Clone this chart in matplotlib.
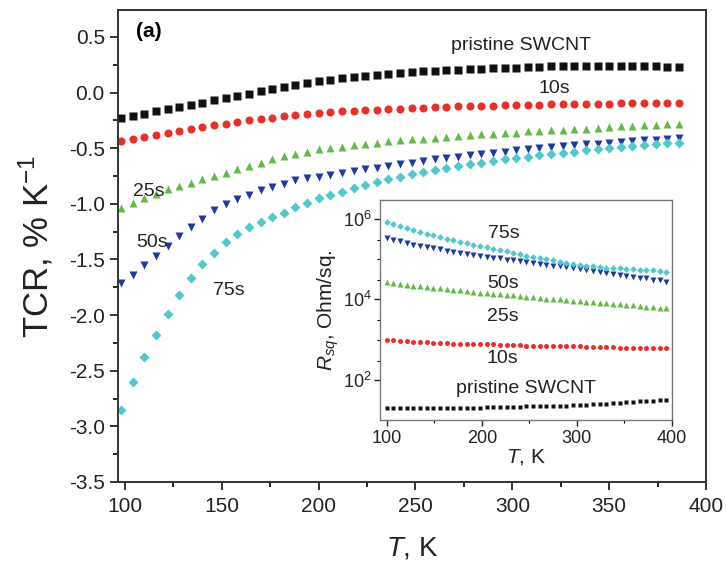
import numpy as np
import matplotlib
matplotlib.use("Agg")
import matplotlib.pyplot as plt
from matplotlib.ticker import MultipleLocator, LogLocator, FixedLocator, NullFormatter

plt.rcParams['font.family'] = ['Liberation Sans', 'DejaVu Sans']
plt.rcParams['mathtext.fontset'] = 'custom'
plt.rcParams['mathtext.it'] = 'Liberation Sans:italic'
plt.rcParams['mathtext.rm'] = 'Liberation Sans'

# main panel: TCR vs T
temp = np.arange(98, 387, 6)

tcr_pristine = [-0.23, -0.21, -0.19, -0.17, -0.15, -0.13, -0.11, -0.09, -0.07, -0.05,
                -0.03, -0.01, 0.01, 0.03, 0.05, 0.07, 0.085, 0.10,
                0.115, 0.13, 0.14, 0.15, 0.16, 0.17, 0.18, 0.185, 0.19, 0.195,
                0.20, 0.205, 0.21, 0.215, 0.22, 0.22, 0.225,
                0.23, 0.23, 0.235, 0.235, 0.24, 0.24, 0.24, 0.24,
                0.24, 0.24, 0.235, 0.235, 0.23, 0.23]
tcr_10s = [-0.44, -0.42, -0.40, -0.38, -0.36, -0.345, -0.33, -0.31, -0.295, -0.28,
           -0.265, -0.25, -0.235, -0.225, -0.21, -0.20, -0.19, -0.18,
           -0.175, -0.17, -0.165, -0.16, -0.155, -0.15, -0.145, -0.14, -0.135, -0.13,
           -0.13, -0.125, -0.125, -0.12, -0.12, -0.115, -0.115,
           -0.11, -0.11, -0.105, -0.105, -0.10, -0.10, -0.10, -0.10,
           -0.095, -0.095, -0.095, -0.09, -0.09, -0.09]
tcr_25s = [-1.04, -0.99, -0.95, -0.91, -0.87, -0.84, -0.81, -0.78, -0.75, -0.72,
           -0.69, -0.66, -0.63, -0.60, -0.57, -0.55, -0.53, -0.51,
           -0.50, -0.49, -0.475, -0.46, -0.45, -0.44, -0.43, -0.42, -0.415, -0.41,
           -0.40, -0.39, -0.385, -0.375, -0.37, -0.365, -0.36,
           -0.35, -0.345, -0.34, -0.335, -0.33, -0.325, -0.315, -0.31,
           -0.305, -0.30, -0.295, -0.29, -0.285, -0.28]
tcr_50s = [-1.71, -1.64, -1.55, -1.47, -1.38, -1.29, -1.21, -1.14, -1.06, -1.00,
           -0.96, -0.92, -0.88, -0.85, -0.82, -0.79, -0.77, -0.755,
           -0.74, -0.72, -0.705, -0.69, -0.675, -0.66, -0.645, -0.63, -0.615, -0.60,
           -0.585, -0.575, -0.56, -0.55, -0.54, -0.53, -0.52,
           -0.51, -0.50, -0.49, -0.48, -0.475, -0.465, -0.46, -0.45,
           -0.445, -0.44, -0.43, -0.425, -0.415, -0.41]
tcr_75s = [-2.85, -2.60, -2.38, -2.18, -1.99, -1.82, -1.67, -1.54, -1.44, -1.34,
           -1.27, -1.21, -1.16, -1.12, -1.08, -1.03, -0.99, -0.95,
           -0.92, -0.89, -0.86, -0.83, -0.80, -0.78, -0.755, -0.735, -0.715, -0.695,
           -0.68, -0.66, -0.645, -0.63, -0.615, -0.60, -0.59,
           -0.575, -0.565, -0.55, -0.54, -0.53, -0.52, -0.51, -0.50,
           -0.49, -0.48, -0.47, -0.46, -0.455, -0.45]

# inset: log10 of sheet resistance vs T
temp_in = np.arange(100, 395, 7)
lr_pristine = [1.29, 1.29, 1.29, 1.29, 1.30, 1.30, 1.30, 1.30, 1.30, 1.30,
               1.31, 1.31, 1.31, 1.31, 1.31, 1.32, 1.32, 1.32, 1.33, 1.33,
               1.33, 1.34, 1.34, 1.35, 1.35, 1.35, 1.36, 1.36, 1.37, 1.37,
               1.38, 1.39, 1.40, 1.41, 1.42, 1.43, 1.44, 1.45, 1.46, 1.47,
               1.48, 1.49, 1.50]
lr_10s = [2.99, 2.98, 2.97, 2.96, 2.95, 2.94, 2.93, 2.92, 2.92, 2.91,
          2.90, 2.90, 2.89, 2.89, 2.89, 2.88, 2.88, 2.87, 2.87, 2.86,
          2.86, 2.85, 2.85, 2.85, 2.84, 2.84, 2.84, 2.83, 2.83, 2.83,
          2.82, 2.82, 2.82, 2.81, 2.81, 2.80, 2.80, 2.80, 2.79, 2.79,
          2.79, 2.78, 2.78]
lr_25s = [4.42, 4.40, 4.38, 4.36, 4.34, 4.32, 4.30, 4.28, 4.27, 4.25,
          4.23, 4.22, 4.20, 4.19, 4.17, 4.16, 4.14, 4.13, 4.11, 4.10,
          4.08, 4.07, 4.05, 4.04, 4.02, 4.01, 4.00, 3.98, 3.97, 3.96,
          3.94, 3.93, 3.92, 3.90, 3.89, 3.88, 3.86, 3.85, 3.84, 3.82,
          3.81, 3.79, 3.78]
lr_50s = [5.52, 5.48, 5.44, 5.40, 5.36, 5.33, 5.30, 5.27, 5.24, 5.21,
          5.18, 5.16, 5.13, 5.11, 5.09, 5.06, 5.04, 5.02, 4.99, 4.97,
          4.95, 4.93, 4.90, 4.88, 4.86, 4.84, 4.82, 4.80, 4.77, 4.75,
          4.73, 4.71, 4.68, 4.66, 4.63, 4.61, 4.59, 4.56, 4.54, 4.52,
          4.49, 4.47, 4.44]
lr_75s = [5.93, 5.87, 5.82, 5.77, 5.72, 5.67, 5.63, 5.59, 5.55, 5.51,
          5.47, 5.43, 5.40, 5.36, 5.32, 5.29, 5.26, 5.22, 5.19, 5.16,
          5.12, 5.09, 5.06, 5.03, 5.00, 4.97, 4.94, 4.91, 4.89, 4.86,
          4.84, 4.82, 4.81, 4.79, 4.78, 4.77, 4.76, 4.75, 4.74, 4.73,
          4.72, 4.70, 4.69]

c_black = "#111111"
c_red = "#e8302a"
c_green = "#63b94a"
c_blue = "#1f3a9e"
c_cyan = "#52c8cc"

fig = plt.figure(figsize=(7.26, 5.67), dpi=100)
ax = fig.add_axes([0.1625, 0.150, 0.81, 0.832])

ax.plot(temp, tcr_pristine, "s", color=c_black, ms=5.2, mec="none")
ax.plot(temp, tcr_10s, "o", color=c_red, ms=5.8, mec="none")
ax.plot(temp, tcr_25s, "^", color=c_green, ms=6.3, mec="none")
ax.plot(temp, tcr_50s, "v", color=c_blue, ms=6.3, mec="none")
ax.plot(temp, tcr_75s, "D", color=c_cyan, ms=5.3, mec="none")

ax.set_xlim(96.4, 400)
ax.set_ylim(-3.5, 0.74)
ax.xaxis.set_major_locator(MultipleLocator(50))
ax.xaxis.set_minor_locator(MultipleLocator(25))
ax.yaxis.set_major_locator(MultipleLocator(0.5))
ax.yaxis.set_minor_locator(MultipleLocator(0.25))
ax.yaxis.set_major_formatter(matplotlib.ticker.FormatStrFormatter("%.1f"))
ax.tick_params(which="major", direction="out", length=6, width=1.3, labelsize=15, colors="#222222")
ax.tick_params(which="minor", direction="out", length=3.5, width=1.2)
ax.tick_params(axis="x", pad=5)
for sp in ax.spines.values():
    sp.set_linewidth(1.4)
    sp.set_color("#333333")

ax.set_xlabel("$T$, K", fontsize=20, labelpad=14, color="#222222")
ax.set_ylabel("TCR, % K$^{-1}$", fontsize=25, labelpad=10, color="#222222")

ax.text(0.03, 0.975, "(a)", transform=ax.transAxes, fontsize=15, fontweight="bold", va="top", ha="left")
ax.text(0.685, 0.925, "pristine SWCNT", transform=ax.transAxes, fontsize=14, ha="center", va="center", color="#222222")
ax.text(0.742, 0.835, "10s", transform=ax.transAxes, fontsize=14, ha="center", va="center", color="#222222")
ax.text(0.053, 0.615, "25s", transform=ax.transAxes, fontsize=14, ha="center", va="center", color="#222222")
ax.text(0.058, 0.508, "50s", transform=ax.transAxes, fontsize=14, ha="center", va="center", color="#222222")
ax.text(0.188, 0.405, "75s", transform=ax.transAxes, fontsize=14, ha="center", va="center", color="#222222")

# inset
axin = fig.add_axes([380 / 726, 1 - 420 / 567, 292 / 726, 220 / 567])
axin.semilogy(temp_in, 10 ** np.array(lr_pristine), "s", color=c_black, ms=3.2, mec="none")
axin.semilogy(temp_in, 10 ** np.array(lr_10s), "o", color=c_red, ms=3.6, mec="none")
axin.semilogy(temp_in, 10 ** np.array(lr_25s), "^", color=c_green, ms=3.8, mec="none")
axin.semilogy(temp_in, 10 ** np.array(lr_50s), "v", color=c_blue, ms=3.8, mec="none")
axin.semilogy(temp_in, 10 ** np.array(lr_75s), "D", color=c_cyan, ms=3.4, mec="none")
axin.set_xlim(93, 400)
axin.set_ylim(10 ** 1.0, 10 ** 6.47)
axin.xaxis.set_major_locator(MultipleLocator(100))
axin.xaxis.set_minor_locator(MultipleLocator(50))
axin.yaxis.set_major_locator(FixedLocator([1e2, 1e4, 1e6]))
axin.yaxis.set_minor_locator(FixedLocator([1e3, 1e5, 3e2, 3e3, 3e4, 3e5]))
axin.yaxis.set_minor_formatter(NullFormatter())
axin.tick_params(which="major", direction="out", length=4, width=1, labelsize=13, colors="#222222")
axin.tick_params(which="minor", direction="out", length=2.5, width=0.8)
axin.tick_params(axis="y", pad=2)
axin.tick_params(axis="x", pad=3)
for sp in axin.spines.values():
    sp.set_linewidth(1.0)
    sp.set_color("#777777")
axin.set_xlabel("$T$, K", fontsize=15, labelpad=0, color="#222222")
axin.set_ylabel("$R_{sq}$, Ohm/sq.", fontsize=15, labelpad=1, color="#222222")

axin.text(0.425, 0.85, "75s", transform=axin.transAxes, fontsize=14, ha="center", va="center", color="#222222")
axin.text(0.42, 0.62, "50s", transform=axin.transAxes, fontsize=14, ha="center", va="center", color="#222222")
axin.text(0.42, 0.47, "25s", transform=axin.transAxes, fontsize=14, ha="center", va="center", color="#222222")
axin.text(0.42, 0.28, "10s", transform=axin.transAxes, fontsize=14, ha="center", va="center", color="#222222")
axin.text(0.50, 0.145, "pristine SWCNT", transform=axin.transAxes, fontsize=14, ha="center", va="center", color="#222222")

fig.savefig("out.png", dpi=100)
